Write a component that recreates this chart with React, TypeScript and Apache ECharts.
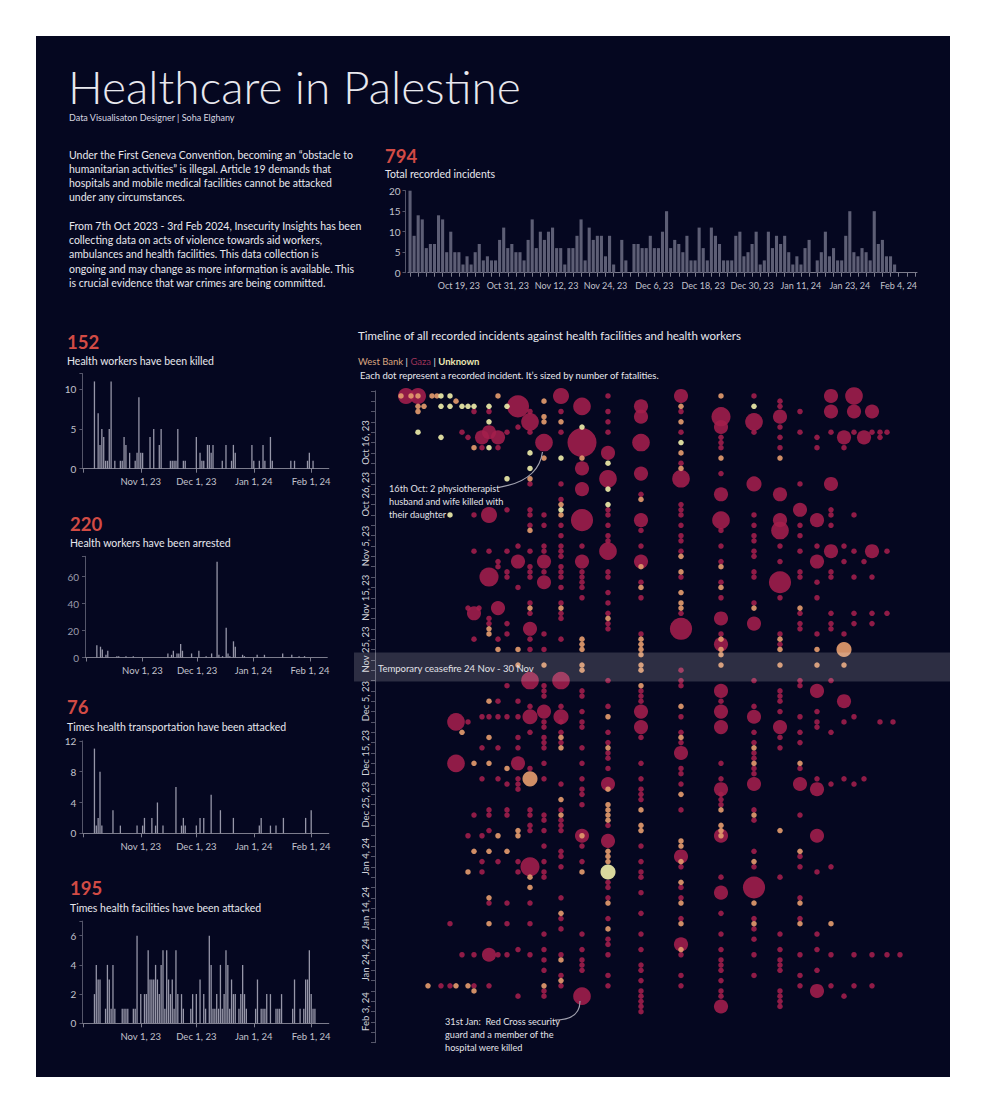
import React, { useEffect, useRef } from "react";
import * as echarts from "echarts";

const PAGE_W = 987;
const PAGE_H = 1114;
const FONT = "Lato, 'Noto Sans', sans-serif";
const MONTHS = ["Jan", "Feb", "Mar", "Apr", "May", "Jun", "Jul", "Aug", "Sep", "Oct", "Nov", "Dec"];

// ---------- Total recorded incidents per day (from 7 Oct 2023) ----------
const TOTAL_START = "2023-10-07";
const TOTAL_AXIS_DAYS = 125; // 7 Oct 2023 - 8 Feb 2024
const TOTAL_INCIDENTS = [
  20, 9, 14, 13, 6, 7, 7, 14, 13, 5, 10, 5, 5, 2, 4, 2, 5, 7, 3, 4, 3, 3, 8, 11, 6, 7, 5, 5, 3, 8,
  13, 6, 10, 8, 10, 11, 6, 6, 2, 6, 6, 9, 13, 3, 11, 8, 9, 9, 4, 9, 2, 0, 8, 3, 0, 7, 7, 6, 6, 9,
  6, 6, 10, 15, 6, 8, 7, 5, 9, 3, 3, 11, 6, 3, 11, 9, 7, 3, 3, 3, 9, 10, 4, 5, 7, 10, 2, 3, 10, 6,
  9, 7, 9, 5, 2, 4, 2, 6, 8, 0, 3, 5, 10, 4, 6, 3, 3, 9, 15, 5, 4, 6, 5, 3, 15, 7, 8, 4, 4, 2,
];

// ---------- Small multiples: [days after 1 Oct 2023, count] ----------
const SMALL_START = "2023-10-01";
const SMALL_AXIS_DAYS = 133; // 1 Oct 2023 - 10 Feb 2024
const KILLED = [
  [6, 11], [8, 7], [9, 3], [10, 5], [11, 4], [12, 1], [13, 1], [14, 5], [15, 11], [17, 1], [20, 1], [21, 1],
  [22, 4], [23, 3], [25, 2], [28, 1], [29, 2], [30, 9], [31, 2], [32, 2], [36, 4], [38, 5], [41, 3], [42, 5],
  [47, 1], [48, 1], [49, 1], [50, 1], [51, 5], [54, 1], [55, 1], [61, 4], [63, 2], [64, 1], [65, 1], [67, 3],
  [68, 3], [69, 2], [70, 3], [75, 1], [77, 3], [80, 1], [81, 3], [82, 2], [91, 3], [92, 1], [95, 1], [97, 3],
  [98, 1], [101, 4], [102, 1], [112, 1], [114, 1], [121, 1], [122, 2], [124, 1],
];
const ARRESTED = [
  [6, 9], [8, 8], [9, 6], [11, 2], [12, 5], [17, 1], [18, 1], [22, 1], [26, 1], [45, 3], [47, 2], [48, 5],
  [50, 3], [51, 3], [52, 10], [53, 5], [58, 3], [62, 5], [66, 1], [69, 3], [72, 71], [73, 2], [75, 1],
  [77, 22], [78, 3], [79, 1], [81, 12], [82, 8], [86, 2], [87, 1], [94, 2], [98, 2], [108, 3], [113, 2],
  [117, 1], [120, 1],
];
const TRANSPORT_ATTACKS = [
  [6, 11], [7, 1], [8, 2], [9, 8], [10, 1], [16, 3], [20, 1], [29, 1], [32, 1], [33, 2], [37, 2], [39, 1],
  [40, 4], [43, 1], [50, 6], [53, 1], [54, 2], [55, 1], [61, 1], [63, 2], [65, 2], [69, 5], [74, 3], [81, 2],
  [95, 1], [96, 2], [101, 1], [104, 1], [108, 2], [120, 2], [123, 3],
];
const FACILITY_ATTACKS = [
  [6, 2], [7, 4], [8, 3], [9, 3], [12, 1], [13, 4], [14, 3], [15, 1], [16, 4], [17, 1], [21, 1], [22, 1],
  [23, 1], [24, 1], [27, 1], [28, 1], [29, 6], [31, 2], [33, 2], [34, 2], [35, 5], [36, 3], [37, 3], [38, 3],
  [39, 4], [40, 3], [41, 2], [42, 4], [43, 5], [44, 1], [45, 5], [46, 3], [47, 2], [48, 3], [49, 1], [50, 5],
  [51, 2], [53, 2], [54, 1], [58, 1], [59, 2], [61, 2], [63, 3], [65, 2], [66, 1], [68, 6], [69, 4], [70, 1],
  [71, 1], [72, 2], [73, 1], [74, 4], [75, 1], [76, 2], [77, 5], [78, 4], [79, 1], [80, 3], [81, 2], [82, 2],
  [84, 1], [85, 2], [86, 4], [87, 2], [88, 1], [93, 1], [94, 3], [96, 1], [97, 1], [98, 1], [99, 2], [101, 2],
  [104, 1], [105, 1], [106, 1], [107, 2], [113, 1], [114, 3], [117, 1], [119, 1], [120, 3], [121, 3],
  [122, 5], [123, 2], [124, 1], [125, 1],
];

const KPI_VALUES = ["794", "152", "220", "76", "195"];
const KPI_LABELS = [
  "Total recorded incidents",
  "Health workers have been killed",
  "Health workers have been arrested",
  "Times health transportation have been attacked",
  "Times health facilities have been attacked",
];

// ---------- Timeline ----------
// day = days after 6 Oct 2023 (1 = 7 Oct). Each column: [horizontal position, entries]
// entry: day (no fatalities) or [day, fatalities]
type Entry = number | [number, number];
const TIMELINE_ORIGIN = "2023-10-06";
const CEASEFIRE_DAYS = [50.6, 56.2];
const GAZA: [number, Entry[]][] = [
  [31, [[1, 6]]],
  [43, [[1, 6]]],
  [66, [115]],
  [75, [103, 115]],
  [81, [[64, 8], [72, 8]]],
  [87, [8, 109]],
  [93, [9, 42, 64, 86]],
  [99, [4, 24, 31, [43, 4], 48, 82, 109, 115]],
  [104, [42]],
  [107, [[9, 4], 11, 63, 69, 75, 86, 91, 93]],
  [114, [4, [8, 4], [24, 6], 31, [36, 10], 44, 45, 63, 81, 82, 85, 99, [109, 4], 115]],
  [123, [[9, 4], 11, 33, 34, [42, 4], 48, 60, 63, 69, 75, 91, 109]],
  [132, [8, 23, 31, 35, 36, 45, 47, 57, 63, 76, 81, 82, 99, 103, 109]],
  [143, [[3, 15], 7, 30, [33, 4], 38, 60, 63, 67, 69, [72, 4], 75, 76, 77, 91, 93, 108, 117]],
  [155, [4, [6, 8], 8, 18, 23, 24, 26, 31, 34, 35, 36, 41, 43, [46, 4], 48, 50, [56, 8], 61, [63, 5], 66, 73, 81, 82, 84, 85, [92, 10], 99, 103, 109]],
  [169, [[10, 8], 24, 26, 30, 31, [33, 4], 35, [37, 4], 47, 50, 57, 58, 59, [62, 4], 64, 65, 67, 68, 69, 72, 75, 82, 83, 85, 88, 91, 93, 94, 105, 108, 110, 112, 116, 117]],
  [186, [[1, 6], 4, 8, 18, 21, 26, 28, 30, 31, 32, 34, 35, 36, 38, 41, 43, 44, 48, [56, 8], 61, [63, 5], 64, 66, 68, 76, 81, 83, 84, 85, 89, 90, 92, 98, 102, 104, 109, 113, 115]],
  [207, [[3, 8], [10, 30], [15, 4], [19, 4], [25, 15], 30, [33, 4], 35, 36, 37, 38, 40, 58, 59, 62, 64, 65, 69, 72, 75, 77, 78, 80, [86, 4], 88, 91, 105, 108, 110, 111, 112, [117, 8]]],
  [233, [1, 4, 6, 8, [12, 4], [17, 8], 23, 24, 26, 28, 29, [31, 8], 35, 36, 39, 41, 43, 45, 46, 56, 61, 66, 68, 70, 71, 73, [76, 4], 84, [87, 4], 95, 96, 98, 102, 106, 107, 109, 113, 115]],
  [266, [[3, 4], [5, 4], [10, 8], [16, 4], 20, [25, 4], 27, 30, [33, 4], 37, 40, 47, 58, 59, 60, [62, 4], [65, 4], 67, 72, 75, 77, 78, 79, 88, 91, 93, 94, 97, 101, 105, 108, 111, 112, 114, 116, 117, 118, 119, 120]],
  [306, [[1, 4], 4, 8, 14, [17, 8], 22, 23, 24, 26, 28, 29, 31, 36, 43, [46, 15], 54, 56, 57, 63, 66, 68, [70, 4], 73, 74, 76, 81, [90, 4], 92, 96, 98, 102, [107, 4], 109, 113, 115]],
  [346, [[5, 10], [7, 4], 9, 10, 11, 16, [20, 4], [25, 8], 27, 30, 33, 37, 40, [44, 4], 47, [49, 4], [58, 4], 60, [62, 4], [65, 4], 72, 75, [77, 4], 78, 79, 80, [86, 4], 94, [97, 4], 101, 105, 108, 110, 111, 112, 114, 116, 117, [119, 4]]],
  [379, [1, [6, 8], 8, [18, 5], 24, 26, 28, 29, 31, 32, 35, 36, 41, [45, 4], 56, 61, [63, 4], 66, 68, 70, 71, 73, 74, [76, 4], 81, 83, 89, 92, [96, 15], 102, 104, 106, 109, 113]],
  [405, [2, 3, [5, 4], 7, 9, 11, [20, 4], [25, 4], [27, 8], 30, 33, [37, 15], 40, 47, 49, 58, 59, 60, 62, [65, 4], 67, 69, 94, 105, 108, 110, 111, 112, 116, 117, 118, 119]],
  [425, [4, 8, 18, [23, 4], 26, 28, 31, 35, 36, 43, 45, 46, 56, 57, 63, 66, 68, 73, [76, 4], 82, 90, 92, 98, 102, 109, 113, 115]],
  [442, [9, 11, [25, 4], 30, [33, 4], 37, 40, 47, [58, 4], 62, 64, 65, 75, [77, 4], [86, 4], 93, 105, 108, 112, [116, 4]]],
  [456, [[1, 4], [4, 4], 8, [18, 4], 23, 24, 26, [31, 4], 35, 36, 43, 45, 46, 56, 66, 76, 92, 109, 115]],
  [469, [[9, 4], 11, 30, 33, 47, [60, 4], 64, 75, 117]],
  [479, [[1, 8], [4, 4], 8, 24, 31, 36, 43, 45, 63, 76, 109, 115]],
  [489, [[9, 4], 33, 75]],
  [497, [[4, 4], 8, [31, 4], 36, 43, 45, 109, 115]],
  [505, [8, 9, 64]],
  [512, [8, 31, 43, 109]],
  [518, [64]],
  [525, [109]],
];
const WEST_BANK: [number, Entry[]][] = [
  [26, [1]], [36, [1]], [43, [1, 3, 4]], [49, [3]], [53, [115]], [57, [1]], [62, [1]], [81, [2, 115]],
  [87, [66]], [93, [93, 115]], [99, [11, 72, 89, 116]], [114, [46, 47, 60, 67, 72, 89, 98, 103]],
  [123, [1, 50, 86]], [132, [73, 89]], [143, [50, 53, 85, 86]], [155, [17, 27, 42, [75, 5], 94, 96]],
  [169, [2, 5, 6, 13, 53, 115]], [186, [6, 22, 24, 42, 67, 69, 79, 82, 101, 110, 114]],
  [207, [13, 48, 49, 50, 53, 54, 86, 93]], [233, [44, 63, 69, 77, 80, 81, 82, 83, 89, 90, 91, 99, 104]],
  [266, [21, 34, 38, 48, 49, 50, 51, 53, 54, 57, 81, 84, 85]],
  [306, [3, 6, 12, 15, 32, 35, 39, 41, 42, 61, 67, 78, 87, 88, 91, 95, 99, 103, 108]],
  [346, [1, 13, 34, 38, 48, 50, 51, 53, 81, 84, 85, 86]], [379, [42, 69, 72, 82, 91, 99, 103]],
  [405, [13, 48, 50, 53, 85]], [425, [42, 72, 89, 99, 103]], [442, [50, 53]], [456, [103]], [469, [[50, 5], 53]],
];
const UNKNOWN: [number, Entry[]][] = [
  [43, [8]], [66, [1, 3, 9]], [75, [1, 3, 24]], [87, [3]], [93, [3]], [99, [3]], [114, [3, 6, 11]],
  [132, [3, 17]], [155, [12, 15]], [186, [13, 23]], [207, [7]], [233, [14, 19, 22, [93, 5]]], [306, [10]], [379, [3]],
];

// ---------- texts ----------
const TITLE = "Healthcare in Palestine";
const SUBTITLE = "Data Visualisaton Designer | Soha Elghany";
const PARAGRAPH_1 =
  "Under the First Geneva Convention, becoming an \u201cobstacle to\nhumanitarian activities\u201d is illegal. Article 19 demands that\nhospitals and mobile medical facilities cannot be attacked\nunder any circumstances.";
const PARAGRAPH_2 =
  "From 7th Oct 2023 - 3rd Feb 2024, Insecurity Insights has been\ncollecting data on acts of violence towards aid workers,\nambulances and health facilities. This data collection is\nongoing and may change as more information is available. This\nis crucial evidence that war crimes are being committed.";
const TIMELINE_TITLE = "Timeline of all recorded incidents against health facilities and health workers";
const TIMELINE_NOTE = "Each dot represent a recorded incident. It\u2019s sized by number of fatalities.";
const NOTE_OCT = "16th Oct: 2 physiotherapist\nhusband and wife killed with\ntheir daughter";
const NOTE_JAN = "31st Jan:  Red Cross security\nguard and a member of the\nhospital were killed";
const CEASEFIRE_LABEL = "Temporary ceasefire 24 Nov - 30 Nov";

// ---------- helpers ----------
const addDays = (iso: string, n: number) => new Date(Date.parse(iso + "T00:00:00Z") + n * 86400000);
const fmtDate = (d: Date) => `${MONTHS[d.getUTCMonth()]} ${d.getUTCDate()}, ${String(d.getUTCFullYear()).slice(2)}`;
const dotSize = (f: number) => (f > 0 ? 5.5 + 4.3 * Math.sqrt(f) : 5.5);

function toDaily(sparse: number[][], n: number) {
  const arr = new Array(n).fill(0);
  sparse.forEach(([d, v]) => (arr[d] = v));
  return arr;
}
function toDots(cols: [number, Entry[]][]) {
  const out: number[][] = [];
  cols.forEach(([x, entries]) =>
    entries.forEach((e) => out.push(typeof e === "number" ? [x, e, 0] : [x, e[0], e[1]]))
  );
  return out.sort((a, b) => b[2] - a[2]);
}

const AXIS_LINE = "#7c7c8c";
const LABEL = "#c2c2cc";
const BG = "#050720";

function text(x: number, y: number, t: string, size: number, color: string, weight: any = "normal", extra: any = {}) {
  return {
    type: "text",
    x,
    y,
    z: 20,
    style: {
      text: t,
      fill: color,
      fontSize: size,
      fontFamily: FONT,
      fontWeight: weight,
      align: "left",
      textAlign: "left",
      verticalAlign: "middle",
      textVerticalAlign: "middle",
      ...extra,
    },
  };
}

export default function App() {
  const ref = useRef<HTMLDivElement>(null);

  useEffect(() => {
    if (!ref.current) return;
    const chart = echarts.init(ref.current, undefined, { renderer: "svg", width: PAGE_W, height: PAGE_H });

    const topDays = Array.from({ length: TOTAL_AXIS_DAYS }, (_, i) => fmtDate(addDays(TOTAL_START, i)));
    const topValues = Array.from({ length: TOTAL_AXIS_DAYS }, (_, i) => (i < TOTAL_INCIDENTS.length ? TOTAL_INCIDENTS[i] : 0));
    const smallDays = Array.from({ length: SMALL_AXIS_DAYS }, (_, i) => fmtDate(addDays(SMALL_START, i)));
    const isMonthStart = (i: number) => addDays(SMALL_START, i).getUTCDate() === 1;
    const isLabelDay = (i: number) => isMonthStart(i) && addDays(SMALL_START, i).getUTCMonth() !== 9;

    const smallSets = [
      { data: KILLED, max: 12, interval: 5 },
      { data: ARRESTED, max: 75, interval: 20 },
      { data: TRANSPORT_ATTACKS, max: 12, interval: 4 },
      { data: FACILITY_ATTACKS, max: 7, interval: 2 },
    ];

    const grid = [
      { left: 408, top: 190.7, width: 509, height: 82 },
      { left: 82.4, top: 373.5, width: 246.4, height: 95.2 },
      { left: 85, top: 556.3, width: 242.3, height: 101.2 },
      { left: 82.4, top: 740.9, width: 246.4, height: 92.4 },
      { left: 82.4, top: 921.1, width: 246.4, height: 102.2 },
      { left: 375, top: 390.8, width: 560, height: 651.9 },
    ].map((g) => ({ ...g, containLabel: false, outerBoundsMode: "none" }));

    const xAxis: any[] = [
      {
        gridIndex: 0,
        type: "category",
        data: topDays,
        axisLine: { show: true, lineStyle: { color: AXIS_LINE, width: 1 } },
        axisTick: { show: true, alignWithLabel: true, interval: (i: number) => i % 2 === 0, length: 4, lineStyle: { color: AXIS_LINE } },
        axisLabel: { interval: (i: number) => i > 0 && i % 12 === 0, color: LABEL, fontSize: 9, fontFamily: FONT, margin: 8 },
        splitLine: { show: false },
      },
      ...smallSets.map((_, k) => ({
        gridIndex: k + 1,
        type: "category",
        data: smallDays,
        axisLine: { show: true, lineStyle: { color: AXIS_LINE, width: 1 } },
        axisTick: { show: true, alignWithLabel: true, interval: (i: number) => isMonthStart(i), length: 4, lineStyle: { color: AXIS_LINE } },
        axisLabel: { interval: (i: number) => isLabelDay(i), color: LABEL, fontSize: 9.5, fontFamily: FONT, margin: 8 },
        splitLine: { show: false },
      })),
      { gridIndex: 5, type: "value", min: 0, max: 560, show: false },
    ];

    const yAxis: any[] = [
      {
        gridIndex: 0,
        type: "value",
        min: 0,
        max: 20,
        interval: 5,
        offset: 2.5,
        axisLine: { show: true, lineStyle: { color: "#55566a" } },
        axisTick: { show: true, length: 3, lineStyle: { color: "#55566a" } },
        axisLabel: { color: LABEL, fontSize: 10, fontFamily: FONT, margin: 5 },
        splitLine: { show: false },
      },
      ...smallSets.map((s, k) => ({
        gridIndex: k + 1,
        type: "value",
        min: 0,
        max: s.max,
        interval: s.interval,
        axisLine: { show: true, lineStyle: { color: "#55566a" } },
        axisTick: { show: true, length: 3, lineStyle: { color: "#55566a" } },
        axisLabel: {
          color: k === 1 ? "#9c9cac" : LABEL,
          fontSize: 10,
          fontFamily: FONT,
          margin: 6,
          formatter: (v: number) => (v % s.interval === 0 ? String(v) : ""),
        },
        splitLine: { show: false },
      })),
      {
        gridIndex: 5,
        type: "value",
        inverse: true,
        min: 0,
        max: 126,
        interval: 2,
        axisLine: { show: true, lineStyle: { color: "#55566a" } },
        axisTick: { show: true, length: 4, lineStyle: { color: "#55566a" } },
        axisLabel: {
          rotate: 90,
          color: "#d2d2da",
          fontSize: 9.5,
          fontFamily: FONT,
          margin: 5,
          formatter: (v: number) => (v > 0 && v % 10 === 0 ? fmtDate(addDays(TIMELINE_ORIGIN, v)) : ""),
        },
        splitLine: { show: false },
      },
    ];

    const series: any[] = [
      {
        type: "bar",
        xAxisIndex: 0,
        yAxisIndex: 0,
        data: topValues,
        barWidth: 3.1,
        itemStyle: { color: "#5d5e75" },
      },
      ...smallSets.map((s, k) => ({
        type: "bar",
        xAxisIndex: k + 1,
        yAxisIndex: k + 1,
        data: toDaily(s.data, SMALL_AXIS_DAYS),
        barWidth: 1.3,
        itemStyle: { color: "#9696a8" },
      })),
      {
        name: "Gaza",
        type: "scatter",
        xAxisIndex: 5,
        yAxisIndex: 5,
        data: toDots(GAZA),
        symbolSize: (v: number[]) => dotSize(v[2]),
        itemStyle: { color: "#a41f4c", opacity: 0.88 },
        z: 3,
      },
      {
        name: "West Bank",
        type: "scatter",
        xAxisIndex: 5,
        yAxisIndex: 5,
        data: toDots(WEST_BANK),
        symbolSize: (v: number[]) => dotSize(v[2]),
        itemStyle: { color: "#e29a6d", opacity: 0.92 },
        z: 4,
      },
      {
        name: "Unknown",
        type: "scatter",
        xAxisIndex: 5,
        yAxisIndex: 5,
        data: toDots(UNKNOWN),
        symbolSize: (v: number[]) => dotSize(v[2]),
        itemStyle: { color: "#eceaa8", opacity: 0.92 },
        z: 5,
      },
    ];

    chart.setOption({
      animation: false,
      backgroundColor: "#ffffff",
      textStyle: { fontFamily: FONT },
      grid,
      xAxis,
      yAxis,
      series,
    });

    const y1 = (chart.convertToPixel({ gridIndex: 5 } as any, [0, CEASEFIRE_DAYS[0]]) as number[])[1];
    const y2 = (chart.convertToPixel({ gridIndex: 5 } as any, [0, CEASEFIRE_DAYS[1]]) as number[])[1];

    const red = "#d24b45";
    const white = "#e8e8ee";
    const graphic: any[] = [
      { type: "rect", z: -10, shape: { x: 36, y: 36, width: 914, height: 1041 }, style: { fill: BG } },
      text(68, 86, TITLE, 46, white, 300, { lineHeight: 34 }),
      text(69, 117.5, SUBTITLE, 9, "#d8d8e0"),
      text(69, 147.9, PARAGRAPH_1, 10.5, white, "normal", { lineHeight: 14.1, verticalAlign: "top", textVerticalAlign: "top" }),
      text(69, 218.9, PARAGRAPH_2, 10.5, white, "normal", { lineHeight: 14.2, verticalAlign: "top", textVerticalAlign: "top" }),
      text(385, 155.5, KPI_VALUES[0], 18.5, red, "bold"),
      text(385, 174.3, KPI_LABELS[0], 10.5, white),
      text(67, 341.7, KPI_VALUES[1], 18.5, red, "bold"),
      text(67, 360.7, KPI_LABELS[1], 10.5, white),
      text(70, 524, KPI_VALUES[2], 18.5, red, "bold"),
      text(70, 543.3, KPI_LABELS[2], 10.5, white),
      text(67, 706.7, KPI_VALUES[3], 18.5, red, "bold"),
      text(67, 726.7, KPI_LABELS[3], 10.5, white),
      text(70, 888.3, KPI_VALUES[4], 18.5, red, "bold"),
      text(70, 908.3, KPI_LABELS[4], 10.5, white),
      text(358, 335, TIMELINE_TITLE, 11.5, white),
      {
        type: "text",
        x: 358,
        y: 361.7,
        z: 20,
        style: {
          text: "{w|West Bank} {s||} {g|Gaza} {s||} {u|Unknown}",
          fontSize: 9.5,
          fontFamily: FONT,
          align: "left",
          textAlign: "left",
          verticalAlign: "middle",
          textVerticalAlign: "middle",
          fill: white,
          rich: {
            w: { fill: "#d9a57f", color: "#d9a57f", fontSize: 9.5, fontFamily: FONT },
            s: { fill: white, color: white, fontSize: 9.5, fontFamily: FONT },
            g: { fill: "#9a3358", color: "#9a3358", fontSize: 9.5, fontFamily: FONT },
            u: { fill: "#ece8b4", color: "#ece8b4", fontSize: 9.5, fontFamily: FONT, fontWeight: "bold" },
          },
        },
      },
      text(360, 375, TIMELINE_NOTE, 9.5, white),
      {
        type: "rect",
        z: 15,
        shape: { x: 354, y: y1, width: 596, height: y2 - y1 },
        style: { fill: "rgba(255,255,255,0.16)" },
      },
      text(378, (y1 + y2) / 2 + 1, CEASEFIRE_LABEL, 9.5, "#e2e2e8"),
      text(389, 482.2, NOTE_OCT, 9.2, "#e2e2e8", "normal", { lineHeight: 13, verticalAlign: "top", textVerticalAlign: "top" }),
      text(445, 1014.5, NOTE_JAN, 9.2, "#e2e2e8", "normal", { lineHeight: 13, verticalAlign: "top", textVerticalAlign: "top" }),
      {
        type: "bezierCurve",
        z: 18,
        shape: { x1: 499, y1: 487.3, cpx1: 526, cpy1: 483, cpx2: 540, cpy2: 470, x2: 542.5, y2: 452 },
        style: { stroke: "#a0a0ae", lineWidth: 1.2, fill: null },
      },
      {
        type: "bezierCurve",
        z: 18,
        shape: { x1: 555, y1: 1020, cpx1: 572, cpy1: 1020, cpx2: 580, cpy2: 1013, x2: 580, y2: 1001 },
        style: { stroke: "#a0a0ae", lineWidth: 1.2, fill: null },
      },
    ];
    chart.setOption({ graphic });

    return () => chart.dispose();
  }, []);

  return <div ref={ref} style={{ position: "absolute", left: 0, top: 0, width: PAGE_W, height: PAGE_H }} />;
}
